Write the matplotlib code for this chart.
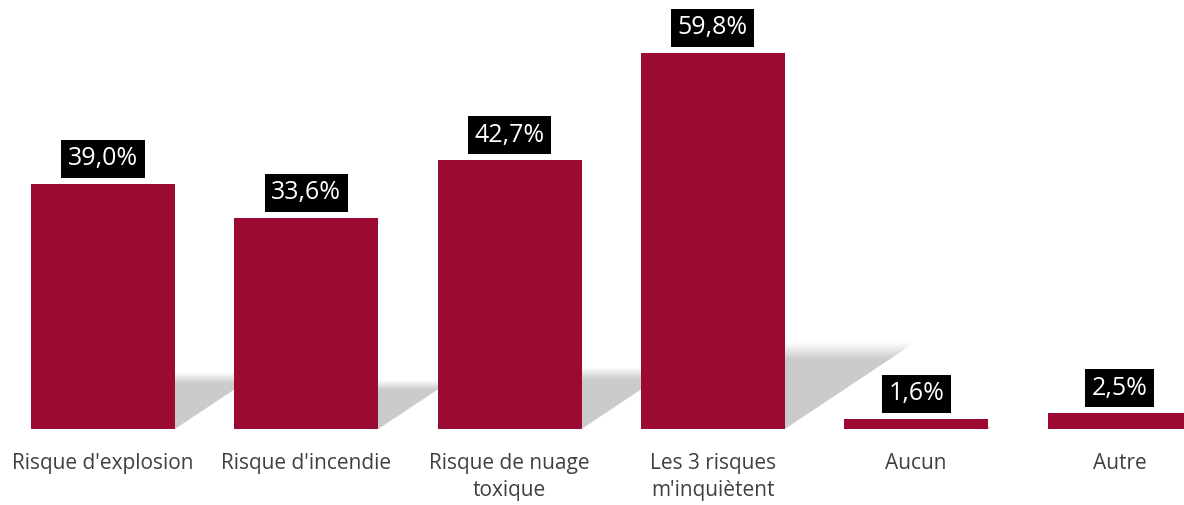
import numpy as np
import matplotlib.pyplot as plt
from matplotlib.patches import Polygon

categories = ["Risque d'explosion", "Risque d'incendie", "Risque de nuage\ntoxique",
              "Les 3 risques\nm'inquiètent", "Aucun", "Autre"]
values = [39.0, 33.6, 42.7, 59.8, 1.6, 2.5]
labels = ["39,0%", "33,6%", "42,7%", "59,8%", "1,6%", "2,5%"]

bar_color = '#9B0A33'
plt.rcParams['font.family'] = ['Open Sans', 'DejaVu Sans']

fig = plt.figure(figsize=(11.84, 5.05), dpi=100)
ax = fig.add_axes([0, 76 / 505, 1, 429 / 505])

x = np.arange(len(categories))
width = 0.708

# soft perspective shadows behind the bars
n = 100
grad = np.zeros((n, 1, 4))
grad[..., :3] = 0.79
alpha = np.ones(n)
fade = np.linspace(0, 1, n) > 0.8
alpha[fade] = np.linspace(1, 0, fade.sum())
grad[:, 0, 3] = alpha * 0.95
for xi, h in zip(x, values):
    shift = 0.0107 * h
    rise = 0.23 * h
    pts = [(xi - width / 2, 0), (xi + width / 2, 0),
           (xi + width / 2 + shift, rise), (xi - width / 2 + shift, rise)]
    poly = Polygon(pts, closed=True, transform=ax.transData, fill=False, lw=0)
    ax.add_patch(poly)
    im = ax.imshow(grad, extent=[xi - width / 2, xi + width / 2 + shift, 0, rise],
                   origin='lower', aspect='auto', zorder=1, interpolation='bilinear')
    im.set_clip_path(poly)

ax.bar(x, values, width=width, color=bar_color, zorder=2)

for xi, h, lab in zip(x, values, labels):
    ax.annotate(lab, (xi, h), xytext=(0, 9), textcoords='offset points',
                ha='center', va='bottom', color='white', fontsize=18,
                bbox=dict(boxstyle='square,pad=0.26', fc='black', ec='none'),
                zorder=3)

ax.set_xlim(-103 / 203.3, (1184 - 103) / 203.3)
ax.set_ylim(0, 429 / 6.29)
ax.set_xticks(x)
ax.set_xticklabels(categories, fontsize=15, color='#404040', linespacing=1.4)
ax.tick_params(axis='x', length=0, pad=17)
ax.set_yticks([])
for s in ax.spines.values():
    s.set_visible(False)

fig.savefig('out.png', dpi=100)
